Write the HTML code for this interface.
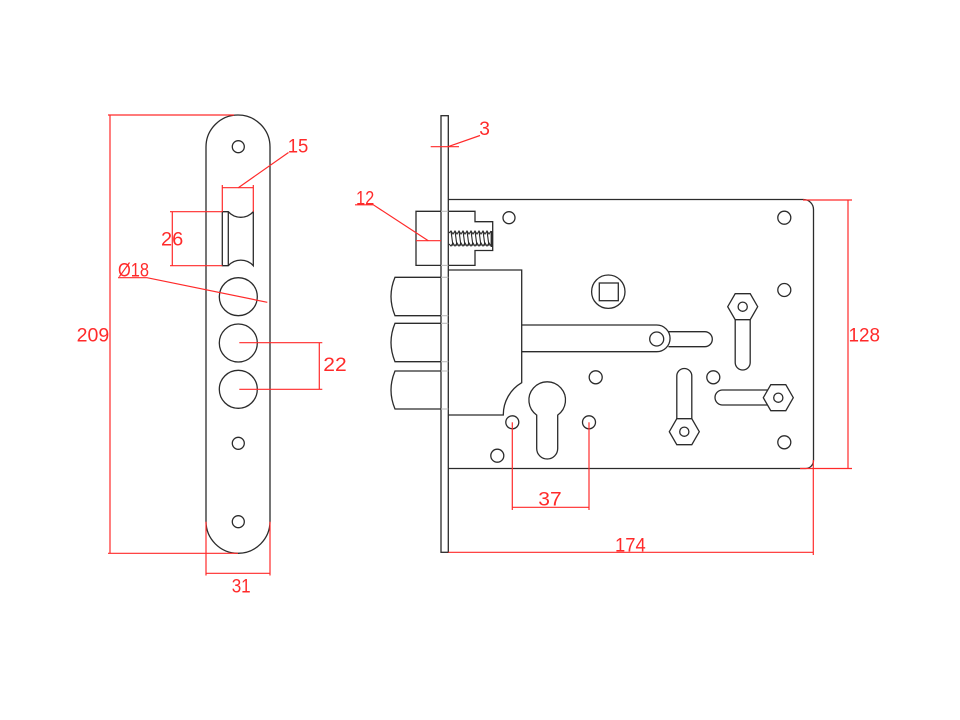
<!DOCTYPE html>
<html>
<head>
<meta charset="utf-8">
<style>
html,body{margin:0;padding:0;background:#fff;}
svg{display:block;}
text{font-family:"Liberation Sans",sans-serif;font-size:19px;fill:#ff2a2a;}
</style>
</head>
<body>
<svg width="960" height="720" viewBox="0 0 960 720" xmlns="http://www.w3.org/2000/svg">
<rect width="960" height="720" fill="#fff"/>

<!-- ================= FRONT VIEW (faceplate) ================= -->
<g fill="none" stroke="#2b2b2b" stroke-width="1.3">
  <path d="M206,147 A32,32 0 0 1 270,147 V521.3 A32,32 0 0 1 206,521.3 Z"/>
  <circle cx="238.3" cy="146.7" r="6"/>
  <circle cx="238.3" cy="443.3" r="6"/>
  <circle cx="238.3" cy="521.7" r="6"/>
  <circle cx="238.3" cy="296.7" r="19"/>
  <circle cx="238.3" cy="343" r="19"/>
  <circle cx="238.3" cy="389.3" r="19"/>
  <!-- latch -->
  <path d="M222.3,211.7 H228.3 A16.75,16.75 0 0 0 253.3,211.7 V265.7 A16.75,16.75 0 0 0 228.3,265.7 H222.3 Z"/>
  <line x1="228.3" y1="211.7" x2="228.3" y2="265.7"/>
</g>

<!-- front view dimensions -->
<g fill="none" stroke="#ff2a2a" stroke-width="1.2">
  <!-- 209 -->
  <line x1="110" y1="115" x2="110" y2="553.3"/>
  <line x1="108" y1="115" x2="234" y2="115"/>
  <line x1="108" y1="553.3" x2="238" y2="553.3"/>
  <!-- 15 -->
  <line x1="222.3" y1="185" x2="222.3" y2="211.7"/>
  <line x1="253.3" y1="185" x2="253.3" y2="211.7"/>
  <line x1="222.3" y1="187.7" x2="253.3" y2="187.7"/>
  <polyline points="238.3,187.7 288.5,152.5"/>
  <!-- 26 -->
  <line x1="170" y1="211.7" x2="222.3" y2="211.7"/>
  <line x1="170" y1="265.7" x2="222.3" y2="265.7"/>
  <line x1="172.3" y1="211.7" x2="172.3" y2="265.7"/>
  <!-- Ø18 -->
  <polyline points="118,277.7 147,277.7 267.3,302.3"/>
  <!-- 22 -->
  <line x1="239.3" y1="342.7" x2="322.3" y2="342.7"/>
  <line x1="239.3" y1="389.3" x2="322.3" y2="389.3"/>
  <line x1="319.3" y1="342.7" x2="319.3" y2="389.3"/>
  <!-- 31 -->
  <line x1="206" y1="521.7" x2="206" y2="575.5"/>
  <line x1="270" y1="521.7" x2="270" y2="575.5"/>
  <line x1="206" y1="573.3" x2="270" y2="573.3"/>
</g>

<text x="287.7" y="152.3" textLength="20.6" lengthAdjust="spacingAndGlyphs">15</text>
<text x="161" y="245.7" textLength="22.3" lengthAdjust="spacingAndGlyphs">26</text>
<text x="118" y="276.7" textLength="31" lengthAdjust="spacingAndGlyphs">Ø18</text>
<text x="76.7" y="341.7" textLength="32.6" lengthAdjust="spacingAndGlyphs">209</text>
<text x="323.3" y="371" textLength="23.4" lengthAdjust="spacingAndGlyphs">22</text>
<text x="231.7" y="592.3" textLength="19" lengthAdjust="spacingAndGlyphs">31</text>

<!-- ================= SIDE VIEW (lock body) ================= -->
<g fill="none" stroke="#2b2b2b" stroke-width="1.3">
  <!-- faceplate -->
  <rect x="441" y="115.7" width="7.3" height="436.6"/>
  <!-- body -->
  <path d="M448.3,199.5 H803.5 A10,10 0 0 1 813.5,209.5 V460.5 A8,8 0 0 1 805.5,468.5 H448.3"/>
  <!-- latch -->
  <path d="M441,211.3 H416 V265.4 H441"/>
  <path d="M448.3,211.3 H475 V221.7 H492.7 V250.5 H475 V265.4 H448.3"/>
  <!-- deadbolt housing -->
  <path d="M448.3,270 H521.7 V382.7 A37,37 0 0 0 503.3,415 H448.3"/>
  <!-- bolts -->
  <path d="M441,277.3 H395 Q387,296.5 395,315.7 H441"/>
  <path d="M441,323.3 H395 Q387,342.5 395,361.7 H441"/>
  <path d="M441,371 H395 Q387,390 395,409 H441"/>
  <!-- bar -->
  <path d="M521.7,325 H656.7 A13.3,13.3 0 0 1 656.7,351.7 H521.7"/>
  <circle cx="656.7" cy="339" r="7"/>
  <path d="M668.5,331.7 H704.8 A7.5,7.5 0 0 1 704.8,346.7 H668.5"/>
  <!-- spindle -->
  <circle cx="608.3" cy="291.7" r="16.7"/>
  <rect x="599.3" y="283" width="19" height="17.7"/>
  <!-- holes -->
  <circle cx="509" cy="217.7" r="6"/>
  <circle cx="784.3" cy="217.7" r="6.5"/>
  <circle cx="784.3" cy="290" r="6.5"/>
  <circle cx="595.7" cy="377.3" r="6.5"/>
  <circle cx="713.3" cy="377.3" r="6.5"/>
  <circle cx="512.3" cy="422.3" r="6.5"/>
  <circle cx="589" cy="422.3" r="6.5"/>
  <circle cx="497.3" cy="455.7" r="6.5"/>
  <circle cx="784.3" cy="442.3" r="6.5"/>
  <!-- keyhole -->
  <path d="M536.7,415.1 A18.3,18.3 0 1 1 557.7,415.1 V448.5 A10.5,10.5 0 0 1 536.7,448.5 Z"/>
  <!-- left vertical slot + hex (bottom) -->
  <path d="M676.8,418.7 V376 A7.5,7.5 0 0 1 691.8,376 V418.7"/>
  <polygon points="699.3,431.7 691.8,444.7 676.8,444.7 669.3,431.7 676.8,418.7 691.8,418.7"/>
  <circle cx="684.3" cy="431.7" r="4.6"/>
  <!-- right vertical slot + hex (top) -->
  <path d="M735.2,319.7 V362.5 A7.5,7.5 0 0 0 750.2,362.5 V319.7"/>
  <polygon points="757.7,306.7 750.2,319.7 735.2,319.7 727.7,306.7 735.2,293.7 750.2,293.7"/>
  <circle cx="742.7" cy="306.7" r="4.6"/>
  <!-- horizontal slot + hex (right) -->
  <path d="M767.7,390 H722.5 A7.5,7.5 0 0 0 722.5,405 H767.7"/>
  <polygon points="793.3,397.7 785.8,410.7 770.8,410.7 763.3,397.7 770.8,384.7 785.8,384.7"/>
  <circle cx="778.3" cy="397.7" r="4.6"/>
</g>

<!-- grey lines across faceplate -->
<g stroke="#bdbdbd" stroke-width="1.1">
  <line x1="441" y1="211.3" x2="448.3" y2="211.3"/>
  <line x1="441" y1="265.4" x2="448.3" y2="265.4"/>
  <line x1="441" y1="277.3" x2="448.3" y2="277.3"/>
  <line x1="441" y1="315.7" x2="448.3" y2="315.7"/>
  <line x1="441" y1="323.3" x2="448.3" y2="323.3"/>
  <line x1="441" y1="361.7" x2="448.3" y2="361.7"/>
  <line x1="441" y1="371" x2="448.3" y2="371"/>
  <line x1="441" y1="409" x2="448.3" y2="409"/>
</g>

<!-- spring -->
<g stroke="#2b2b2b" stroke-width="1.1" fill="none">
  <line x1="451" y1="231" x2="453" y2="246"/>
  <line x1="455" y1="231" x2="457" y2="246"/>
  <line x1="459" y1="231" x2="461" y2="246"/>
  <line x1="463" y1="231" x2="465" y2="246"/>
  <line x1="467" y1="231" x2="469" y2="246"/>
  <line x1="471" y1="231" x2="473" y2="246"/>
  <line x1="475" y1="231" x2="477" y2="246"/>
  <line x1="479" y1="231" x2="481" y2="246"/>
  <line x1="483" y1="231" x2="485" y2="246"/>
  <line x1="487" y1="231" x2="489" y2="246"/>
  <polyline points="449,233 451,231 453,234 455,231 457,234 459,231 461,234 463,231 465,234 467,231 469,234 471,231 473,234 475,231 477,234 479,231 481,234 483,231 485,234 487,231 489,234 491,231"/>
  <polyline points="449,244 451,246 453,243 455,246 457,243 459,246 461,243 463,246 465,243 467,246 469,243 471,246 473,243 475,246 477,243 479,246 481,243 483,246 485,243 487,246 489,243 491,246"/>
  <line x1="491.5" y1="231" x2="491.5" y2="247" stroke-width="1.8"/>
</g>

<!-- side view dimensions -->
<g fill="none" stroke="#ff2a2a" stroke-width="1.2">
  <!-- 3 -->
  <line x1="430.7" y1="146.7" x2="459" y2="146.7"/>
  <polyline points="448,146.7 480,135.5"/>
  <!-- 12 -->
  <line x1="416" y1="240.7" x2="441" y2="240.7"/>
  <polyline points="428.3,240.7 373.3,204.8 355,204.8"/>
  <!-- 128 -->
  <line x1="803" y1="200" x2="852" y2="200"/>
  <line x1="800" y1="468.5" x2="852" y2="468.5"/>
  <line x1="848" y1="200" x2="848" y2="468.5"/>
  <!-- 174 -->
  <line x1="813.3" y1="460" x2="813.3" y2="555"/>
  <line x1="448.3" y1="552.3" x2="813.3" y2="552.3"/>
  <!-- 37 -->
  <line x1="512.3" y1="422.3" x2="512.3" y2="510"/>
  <line x1="589" y1="422.3" x2="589" y2="510"/>
  <line x1="512.3" y1="507.3" x2="589" y2="507.3"/>
</g>

<text x="479.3" y="135" textLength="10.7" lengthAdjust="spacingAndGlyphs">3</text>
<text x="356" y="204.3" textLength="18.3" lengthAdjust="spacingAndGlyphs">12</text>
<text x="848.5" y="341.7" textLength="31.5" lengthAdjust="spacingAndGlyphs">128</text>
<text x="538.3" y="505.7" textLength="23.4" lengthAdjust="spacingAndGlyphs">37</text>
<text x="615" y="551.5" textLength="30.7" lengthAdjust="spacingAndGlyphs">174</text>
</svg>
</body>
</html>
